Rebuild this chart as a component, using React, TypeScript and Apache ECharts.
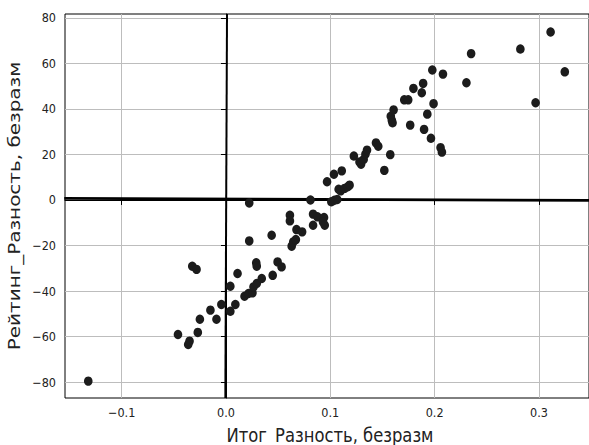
import React, { useEffect, useRef } from "react";
import * as echarts from "echarts";

// Итог_Разность (x) and Рейтинг_Разность (y) for each observation
const xValues = [
  -0.132, -0.046, -0.0362, -0.0349, -0.0323, -0.0282, -0.027, -0.025, -0.0149, -0.0091,
  -0.0044, 0.0042, 0.0042, 0.009, 0.0111, 0.0178, 0.0216, 0.0254, 0.0264, 0.0295,
  0.0343, 0.029, 0.0295, 0.0223, 0.0223, 0.0438, 0.0448, 0.0495, 0.0533, 0.0613,
  0.0613, 0.063, 0.0645, 0.067, 0.0676, 0.073, 0.081, 0.0835, 0.0877, 0.094,
  0.093, 0.0947, 0.0835, 0.0969, 0.101, 0.104, 0.1067, 0.1035, 0.111, 0.108,
  0.11, 0.1137, 0.1168, 0.1185, 0.1226, 0.128, 0.1295, 0.132, 0.1337, 0.1352,
  0.1438, 0.146, 0.1518, 0.1575, 0.158, 0.159, 0.1597, 0.1607, 0.1709, 0.1747,
  0.1766, 0.1797, 0.1877, 0.189, 0.193, 0.1899, 0.1978, 0.199, 0.1965, 0.2057,
  0.207, 0.208, 0.2305, 0.235, 0.2822, 0.3112, 0.3248, 0.2968,
];
const yValues = [
  -79.6, -59.1, -63.5, -62.0, -29.1, -30.5, -58.2, -52.4, -48.4, -52.4,
  -45.9, -37.9, -48.9, -45.9, -32.3, -42.3, -41.1, -40.8, -38.2, -36.7,
  -34.5, -27.6, -29.1, -18.0, -1.3, -15.5, -33.1, -27.2, -29.4, -6.7,
  -9.2, -20.3, -18.4, -17.4, -13.0, -14.0, 0.0, -6.2, -7.4, -7.7,
  -9.6, -11.1, -11.1, 8.0, -0.8, -0.1, 0.2, 11.3, 12.8, 4.7,
  4.0, 5.1, 5.8, 6.5, 19.3, 16.7, 15.7, 17.8, 20.1, 21.9,
  25.1, 23.6, 13.0, 19.9, 36.8, 35.0, 33.9, 39.6, 44.0, 44.0,
  32.9, 49.0, 47.1, 51.2, 37.7, 31.0, 57.1, 42.3, 27.1, 23.0,
  21.0, 55.3, 51.5, 64.3, 66.3, 73.8, 56.3, 42.7,
];

// reference lines through the origin
const hLineX = [-0.155, 0.348];
const hLineY = [0.7, -0.2];
const vLineX = [0.001, -0.0006];
const vLineY = [81.7, -87.0];

const xTicks = [-0.1, 0.0, 0.1, 0.2, 0.3];
const yTicks = [-80, -60, -40, -20, 0, 20, 40, 60, 80];

const xTitle = "Итог_Разность, безразм";
const yTitle = "Рейтинг_Разность, безразм";

const MINUS = "\u2212";
const fmtX = (v: number) => (v < 0 ? MINUS : "") + Math.abs(v).toFixed(1);
const fmtY = (v: number) => (v < 0 ? MINUS : "") + Math.abs(Math.round(v)).toString();

const tickFont = "'DejaVu Sans Condensed', 'DejaVu Sans', sans-serif";
const titleFont = "'DejaVu Sans', sans-serif";

export default function App() {
  const ref = useRef<HTMLDivElement>(null);

  useEffect(() => {
    if (!ref.current) return;
    const chart = echarts.init(ref.current, undefined, { renderer: "svg" });

    const points = xValues.map((x, i) => [x, yValues[i]]);
    const hLine = hLineX.map((x, i) => [x, hLineY[i]]);
    const vLine = vLineX.map((x, i) => [x, vLineY[i]]);

    chart.setOption({
      animation: false,
      backgroundColor: "#fff",
      grid: {
        left: 65,
        top: 14,
        right: -4,
        bottom: 47,
        show: true,
        borderColor: "#000",
        borderWidth: 1,
      },
      xAxis: {
        type: "value",
        min: -0.1543,
        max: 0.348,
        axisLine: { show: true, lineStyle: { color: "#000", width: 1 } },
        axisTick: {
          show: true,
          length: 5,
          inside: false,
          customValues: xTicks,
          lineStyle: { color: "#000", width: 1 },
        },
        axisLabel: {
          customValues: xTicks,
          formatter: fmtX,
          margin: 8,
          fontSize: 12.5,
          fontFamily: tickFont,
          color: "#222",
        },
        splitLine: { show: true, lineStyle: { color: "#bdbdbd", width: 1 } },
      },
      yAxis: {
        type: "value",
        min: -87.0,
        max: 81.7,
        axisLine: { show: true, lineStyle: { color: "#000", width: 1 } },
        axisTick: {
          show: true,
          length: 5,
          inside: false,
          customValues: yTicks,
          lineStyle: { color: "#000", width: 1 },
        },
        axisLabel: {
          customValues: yTicks,
          formatter: fmtY,
          margin: 9,
          fontSize: 12.5,
          fontFamily: tickFont,
          color: "#222",
        },
        splitLine: { show: true, lineStyle: { color: "#bdbdbd", width: 1 } },
      },
      graphic: [
        {
          type: "text",
          x: 330,
          y: 434.5,
          scaleX: 0.82,
          style: {
            text: xTitle,
            fontSize: 20,
            fontFamily: titleFont,
            fill: "#222",
            align: "center",
            verticalAlign: "middle",
          },
        },
        {
          type: "text",
          x: 14.6,
          y: 206,
          rotation: Math.PI / 2,
          scaleY: 0.82,
          style: {
            text: yTitle,
            fontSize: 20,
            fontFamily: titleFont,
            fill: "#222",
            align: "center",
            verticalAlign: "middle",
          },
        },
      ],
      series: [
        {
          type: "line",
          data: hLine,
          symbol: "none",
          lineStyle: { color: "#000", width: 2.6 },
          z: 3,
        },
        {
          type: "line",
          data: vLine,
          symbol: "none",
          lineStyle: { color: "#000", width: 2 },
          z: 3,
        },
        {
          type: "scatter",
          data: points,
          symbol: "circle",
          symbolSize: [8.6, 9.4],
          itemStyle: { color: "#1c1c1c", opacity: 1 },
          z: 4,
        },
      ],
    });

    return () => chart.dispose();
  }, []);

  return (
    <div
      ref={ref}
      style={{ position: "fixed", left: 0, top: 0, width: 589, height: 445, overflow: "hidden" }}
    />
  );
}
